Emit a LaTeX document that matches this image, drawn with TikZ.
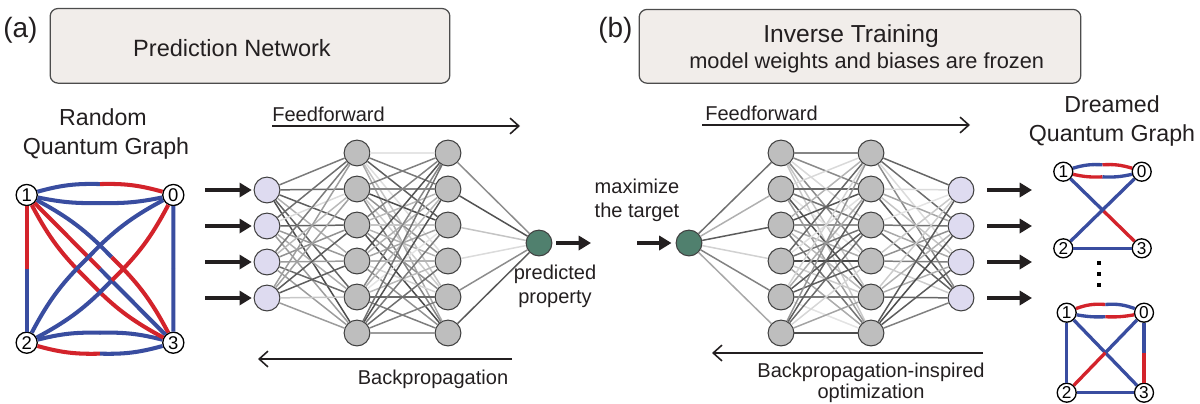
\documentclass[tikz,border=0pt]{standalone}
\usepackage{fontspec}
\setmainfont{Liberation Sans}
\usepackage{tikz}
\usetikzlibrary{arrows.meta,calc,positioning}
\definecolor{qblue}{RGB}{57,77,160}
\definecolor{qred}{RGB}{211,35,43}
\definecolor{lavender}{RGB}{222,219,240}
\definecolor{nodegray}{RGB}{190,190,190}
\definecolor{propgreen}{RGB}{80,128,110}
\definecolor{boxfill}{RGB}{241,237,234}
\definecolor{ink}{RGB}{35,31,32}
\tikzstyle{titlebox} = [rectangle, rounded corners=4.5pt, draw=black!70, line width=0.7pt, fill=boxfill]
\tikzstyle{neuron} = [circle, draw=black!75, line width=0.6pt, minimum size=14.7pt, inner sep=0pt]
\tikzstyle{inp} = [neuron, fill=lavender]
\tikzstyle{hid} = [neuron, fill=nodegray]
\tikzstyle{prop} = [neuron, fill=propgreen]
\tikzstyle{wire} = [line width=0.85pt]
\tikzstyle{fat} = [draw=ink, line width=2.8pt, -{Triangle[length=7pt,width=8pt]}]
\tikzstyle{flow} = [draw=ink, line width=0.9pt, -{Straight Barb[length=5pt,width=9pt]}]
\tikzstyle{qnode} = [circle, draw=black, fill=white, line width=0.75pt, inner sep=0pt]
\tikzstyle{qb} = [draw=qblue]
\tikzstyle{qr} = [draw=qred]
\tikzstyle{lbl} = [text=ink, inner sep=0pt]
\newcommand\lblfont{\fontsize{11.4}{13.6}\selectfont}
% two-coloured edge: from, to, bend, colour near from, colour near to
\newcommand\qedge[5]{%
  \pgfmathsetmacro\qhalf{(#3)/2}%
  \coordinate (qm) at ($(#1)!0.5!(#2)!{tan(\qhalf)}!90:(#2)$);
  \draw [#4] (#1) to [bend left=\qhalf] (qm);
  \draw [#5] (qm) to [bend left=\qhalf] (#2);
}

\begin{document}
\begin{tikzpicture}[x=0.02cm, y=-0.02cm, font=\lblfont]
  \useasboundingbox (0,0) rectangle (1200,403);
  \pgfmathsetseed{7}

  % headers
  \node [lbl, anchor=base west, font=\fontsize{15.9}{18}\selectfont] (taga) at (3,37.5) {(a)};
  \node [titlebox, minimum width=227.5pt, minimum height=42.5pt] (boxa) at (250,45.8) {};
  \node [lbl, anchor=base, font=\fontsize{13.4}{15}\selectfont] (titlea) at (232,56.5) {Prediction Network};
  \node [lbl, anchor=base west, font=\fontsize{15.9}{18}\selectfont] (tagb) at (598,37.5) {(b)};
  \node [titlebox, minimum width=251.4pt, minimum height=42pt] (boxb) at (860,46.3) {};
  \node [lbl, anchor=base, font=\fontsize{14}{16}\selectfont] (titleb) at (851,42.5) {Inverse Training};
  \node [lbl, anchor=base, font=\fontsize{12.4}{14}\selectfont] (subb) at (866.7,68.3) {model weights and biases are frozen};

  % (a) prediction network
  \foreach \i in {1,...,4}
    \node [inp] (pin\i) at (267,{154+36*\i}) {};
  \foreach \j in {1,...,6} {
    \node [hid] (ph\j) at (357,{117+36*\j}) {};
    \node [hid] (pk\j) at (448,{117+36*\j}) {};
  }
  \node [prop] (pout) at (539,243) {};
  \foreach \i in {1,...,4}
    \foreach \j in {1,...,6} {
      \pgfmathrandominteger{\shd}{10}{72}
      \draw [wire, black!\shd] (pin\i) -- (ph\j);
    }
  \foreach \j in {1,...,6}
    \foreach \k in {1,...,6} {
      \pgfmathrandominteger{\shd}{10}{72}
      \draw [wire, black!\shd] (ph\j) -- (pk\k);
    }
  \foreach \k in {1,...,6} {
    \pgfmathrandominteger{\shd}{10}{72}
    \draw [wire, black!\shd] (pk\k) -- (pout);
  }
  \foreach \i in {1,...,4} {
    \coordinate (pa\i) at (205,{154+36*\i});
    \draw [fat, shorten >=1pt] (pa\i) -- (pin\i);
  }
  \coordinate (pz) at (591,243);
  \draw [fat, shorten <=2.3pt] (pout) -- (pz);
  \node [lbl, align=center] (predtxt) at (555,286) {predicted\\property};
  \coordinate (ffa0) at (272,126);
  \coordinate (ffa1) at (520,126);
  \draw [flow] (ffa0) -- (ffa1);
  \node [lbl, anchor=base west] (fftxta) at (272,121) {Feedforward};
  \coordinate (bpa0) at (512,359);
  \coordinate (bpa1) at (258,359);
  \draw [flow] (bpa0) -- (bpa1);
  \node [lbl, anchor=base] (bptxta) at (433,384) {Backpropagation};

  % (b) inverse training
  \node [prop] (iin) at (689,243) {};
  \foreach \j in {1,...,6} {
    \node [hid] (ia\j) at (781,{117+36*\j}) {};
    \node [hid] (ib\j) at (871,{117+36*\j}) {};
  }
  \foreach \i in {1,...,4}
    \node [inp] (iout\i) at (961,{154+36*\i}) {};
  \foreach \j in {1,...,6} {
    \pgfmathrandominteger{\shd}{10}{72}
    \draw [wire, black!\shd] (iin) -- (ia\j);
  }
  \foreach \j in {1,...,6}
    \foreach \k in {1,...,6} {
      \pgfmathrandominteger{\shd}{10}{72}
      \draw [wire, black!\shd] (ia\j) -- (ib\k);
    }
  \foreach \k in {1,...,6}
    \foreach \i in {1,...,4} {
      \pgfmathrandominteger{\shd}{10}{72}
      \draw [wire, black!\shd] (ib\k) -- (iout\i);
    }
  \coordinate (ia0) at (637,243);
  \draw [fat, shorten >=2.3pt] (ia0) -- (iin);
  \foreach \i in {1,...,4} {
    \coordinate (iz\i) at (1032,{154+36*\i});
    \draw [fat, shorten <=7.4pt] (iout\i) -- (iz\i);
  }
  \node [lbl, align=center] (maxtxt) at (637,200) {maximize\\the target};
  \coordinate (ffb0) at (702,125);
  \coordinate (ffb1) at (970,125);
  \draw [flow] (ffb0) -- (ffb1);
  \node [lbl, anchor=base west] (fftxtb) at (705,120) {Feedforward};
  \coordinate (bpb0) at (983,353);
  \coordinate (bpb1) at (712,353);
  \draw [flow] (bpb0) -- (bpb1);
  \node [lbl, anchor=base] (bptxtb1) at (871,377) {Backpropagation-inspired};
  \node [lbl, anchor=base] (bptxtb2) at (871,398) {optimization};

  % random quantum graph
  \node [lbl, anchor=base, font=\fontsize{13.2}{16}\selectfont] (rqg1) at (103,125.7) {Random};
  \node [lbl, anchor=base, font=\fontsize{13.2}{16}\selectfont] (rqg2) at (106,154) {Quantum Graph};
  \begin{scope}[line width=2.3pt]
    \node [qnode, minimum size=12pt, font=\fontsize{10.5}{11}\selectfont] (g1) at (26.7,195) {1};
    \node [qnode, minimum size=12pt, font=\fontsize{10.5}{11}\selectfont] (g0) at (173.3,195) {0};
    \node [qnode, minimum size=12pt, font=\fontsize{10.5}{11}\selectfont] (g2) at (26.7,342.7) {2};
    \node [qnode, minimum size=12pt, font=\fontsize{10.5}{11}\selectfont] (g3) at (173.3,342.7) {3};
    \qedge{g1}{g0}{17}{qb}{qr}
    \qedge{g1}{g0}{-12.5}{qb}{qb}
    \qedge{g2}{g3}{15.5}{qb}{qb}
    \qedge{g2}{g3}{-17}{qr}{qb}
    \qedge{g1}{g2}{0}{qr}{qb}
    \qedge{g0}{g3}{0}{qb}{qb}
    \qedge{g1}{g3}{18}{qb}{qr}
    \qedge{g1}{g3}{0}{qr}{qb}
    \qedge{g1}{g3}{-18}{qr}{qr}
    \qedge{g0}{g2}{-18}{qb}{qb}
    \qedge{g0}{g2}{18}{qr}{qb}
  \end{scope}

  % dreamed quantum graphs
  \node [lbl, anchor=base, font=\fontsize{13.2}{16}\selectfont] (dqg1) at (1112,112) {Dreamed};
  \node [lbl, anchor=base, font=\fontsize{13.2}{16}\selectfont] (dqg2) at (1112,141) {Quantum Graph};
  \begin{scope}[line width=1.9pt]
    \node [qnode, minimum size=10.8pt, font=\fontsize{9.8}{10}\selectfont] (t1) at (1063.3,171.7) {1};
    \node [qnode, minimum size=10.8pt, font=\fontsize{9.8}{10}\selectfont] (t0) at (1141.7,171.7) {0};
    \node [qnode, minimum size=10.8pt, font=\fontsize{9.8}{10}\selectfont] (t2) at (1063.3,248.3) {2};
    \node [qnode, minimum size=10.8pt, font=\fontsize{9.8}{10}\selectfont] (t3) at (1141.7,248.3) {3};
    \qedge{t1}{t0}{20}{qb}{qr}
    \qedge{t1}{t0}{-15}{qr}{qb}
    \qedge{t1}{t3}{0}{qb}{qr}
    \qedge{t0}{t2}{0}{qb}{qb}
    \qedge{t2}{t3}{0}{qb}{qb}
    \node [qnode, minimum size=10.8pt, font=\fontsize{9.8}{10}\selectfont] (b1) at (1066.7,312.7) {1};
    \node [qnode, minimum size=10.8pt, font=\fontsize{9.8}{10}\selectfont] (b0) at (1144,312.7) {0};
    \node [qnode, minimum size=10.8pt, font=\fontsize{9.8}{10}\selectfont] (b2) at (1066.7,392.7) {2};
    \node [qnode, minimum size=10.8pt, font=\fontsize{9.8}{10}\selectfont] (b3) at (1144,392.7) {3};
    \qedge{b1}{b0}{24}{qr}{qb}
    \qedge{b1}{b0}{-12}{qb}{qr}
    \qedge{b1}{b2}{0}{qb}{qb}
    \qedge{b0}{b3}{0}{qb}{qr}
    \qedge{b1}{b3}{0}{qb}{qb}
    \qedge{b0}{b2}{0}{qb}{qr}
    \qedge{b2}{b3}{0}{qb}{qb}
  \end{scope}
  \foreach \d in {1,2,3}
    \node [fill=black, inner sep=0pt, minimum width=2.3pt, minimum height=2.6pt] (dot\d) at (1099,{252+11*\d}) {};
\end{tikzpicture}
\end{document}
